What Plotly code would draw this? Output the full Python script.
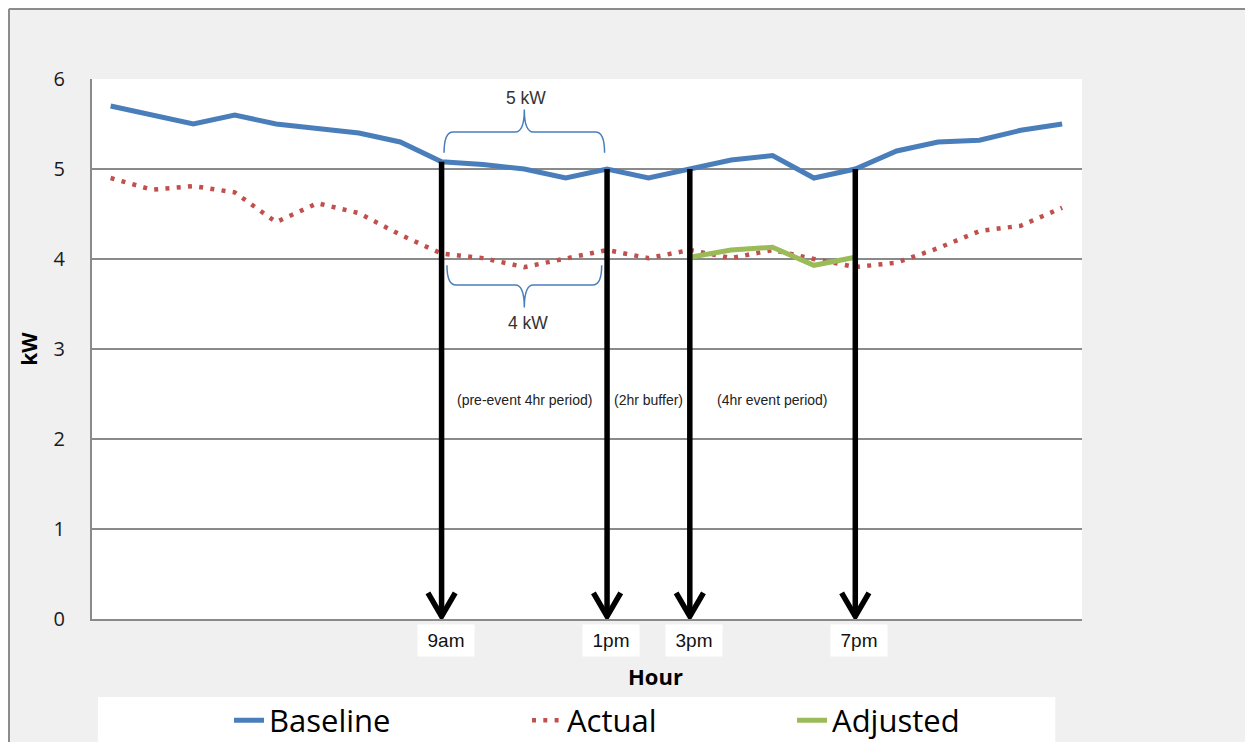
import plotly.graph_objects as go

# ---------------- data ----------------
hours = list(range(1, 25))
baseline = [5.7, 5.6, 5.5, 5.6, 5.5, 5.45, 5.4, 5.3, 5.08, 5.05, 5.0, 4.9,
            5.0, 4.9, 5.0, 5.1, 5.15, 4.9, 5.0, 5.2, 5.3, 5.32, 5.43, 5.5]
actual = [4.9, 4.77, 4.81, 4.74, 4.41, 4.62, 4.51, 4.27, 4.06, 4.01, 3.91, 4.0,
          4.1, 4.01, 4.1, 4.01, 4.1, 4.0, 3.91, 3.96, 4.12, 4.31, 4.37, 4.57]
adjusted_hours = [15, 16, 17, 18, 19]
adjusted = [4.02, 4.1, 4.13, 3.93, 4.02]

marker_hours = [9, 13, 15, 19]
marker_labels = ["9am", "1pm", "3pm", "7pm"]

period_texts = ["(pre-event 4hr period)", "(2hr buffer)", "(4hr event period)"]
pre_event_baseline_label = "5 kW"
pre_event_actual_label = "4 kW"

BLUE = "#4a7ebb"
RED = "#c0504d"
GREEN = "#9bbb59"
GRID = "#8a8a8a"
FRAME = "#8c8c8c"

fig = go.Figure()

fig.add_trace(go.Scatter(x=hours, y=baseline, name="Baseline", mode="lines",
                         legend="legend", line=dict(color=BLUE, width=5)))
fig.add_trace(go.Scatter(x=hours, y=actual, name="Actual", mode="lines",
                         legend="legend2",
                         line=dict(color=RED, width=4.5, dash="4px,7.3px")))
fig.add_trace(go.Scatter(x=adjusted_hours, y=adjusted, name="Adjusted", mode="lines",
                         legend="legend3", line=dict(color=GREEN, width=5)))

# vertical arrows from the baseline down to zero
ax_x, ax_y = [], []
arm_dx, arm_dy = 0.33, 0.29
for h in marker_hours:
    b = baseline[hours.index(h)]
    ax_x += [h, h, None, h - arm_dx, h, h + arm_dx, None]
    ax_y += [b, 0.03, None, arm_dy, 0.03, arm_dy, None]
fig.add_trace(go.Scatter(x=ax_x, y=ax_y, mode="lines", showlegend=False,
                         hoverinfo="skip", cliponaxis=False,
                         line=dict(color="black", width=5.5)))


def brace(x0, x1, y_tip, y_flat, y_peak, d=0.22):
    xc = (x0 + x1) / 2
    return (f"M {x0},{y_tip} Q {x0},{y_flat} {x0 + d},{y_flat} "
            f"L {xc - d},{y_flat} Q {xc},{y_flat} {xc},{y_peak} "
            f"Q {xc},{y_flat} {xc + d},{y_flat} L {x1 - d},{y_flat} "
            f"Q {x1},{y_flat} {x1},{y_tip}")


# paper coordinates of the outer chart frame
fx = -83 / 990
fy = 1 + 70 / 540

h0, h1 = marker_hours[0], marker_hours[1]
shapes = [
    # frame lines
    dict(type="line", xref="paper", yref="paper", x0=fx, x1=1.3, y0=fy, y1=fy,
         line=dict(color=FRAME, width=2), layer="above"),
    dict(type="line", xref="paper", yref="paper", x0=fx, x1=fx, y0=-0.4, y1=fy,
         line=dict(color=FRAME, width=2), layer="above"),
    # legend box
    dict(type="rect", xref="paper", yref="paper", x0=0.006, x1=0.973, y0=-0.4, y1=-0.1444,
         fillcolor="white", line=dict(width=0), layer="below"),
    # braces
    dict(type="path", xref="x", yref="y", path=brace(h0 + 0.06, h1 - 0.06, 5.18, 5.41, 5.66),
         line=dict(color=BLUE, width=1.5)),
    dict(type="path", xref="x", yref="y", path=brace(h0 + 0.13, h1 - 0.13, 3.93, 3.71, 3.46),
         line=dict(color=BLUE, width=1.5)),
]

annotations = []
for h, lab in zip(marker_hours, marker_labels):
    annotations.append(dict(x=h + 0.1, y=0, xref="x", yref="y", text=lab, showarrow=False,
                            yanchor="top", yshift=-5, bgcolor="white", width=46,
                            borderpad=5,
                            font=dict(family="Liberation Sans, Arial", size=19, color="#111")))
period_centers = [(marker_hours[i] + marker_hours[i + 1]) / 2 for i in range(3)]
for xc, t in zip(period_centers, period_texts):
    annotations.append(dict(x=xc, y=2.43, xref="x", yref="y", text=t, showarrow=False,
                            font=dict(family="Liberation Sans, Arial", size=14, color="#222")))
annotations.append(dict(x=(h0 + h1) / 2 + 0.05, y=5.79, xref="x", yref="y",
                        text=pre_event_baseline_label, showarrow=False,
                        font=dict(family="Liberation Sans, Arial", size=17.5, color="#333")))
annotations.append(dict(x=(h0 + h1) / 2 + 0.08, y=3.29, xref="x", yref="y",
                        text=pre_event_actual_label, showarrow=False,
                        font=dict(family="Liberation Sans, Arial", size=17.5, color="#333")))
annotations.append(dict(x=0.569, y=-0.1056, xref="paper", yref="paper", text="<b>Hour</b>",
                        showarrow=False, xanchor="center", yanchor="middle",
                        font=dict(family="Open Sans", size=22, color="black")))

legend_style = dict(orientation="h", xanchor="left", y=-0.138, yanchor="top",
                    bgcolor="rgba(0,0,0,0)",
                    font=dict(family="Open Sans", size=31, color="black"), itemwidth=30)

fig.update_layout(
    width=1253, height=742,
    # the page adds an 8px body margin; margins are shifted to compensate
    margin=dict(l=84, r=179, t=71, b=131, autoexpand=False),
    paper_bgcolor="#f0f0f0", plot_bgcolor="white",
    shapes=shapes, annotations=annotations,
    showlegend=True,
    legend=dict(x=0.1384, **legend_style),
    legend2=dict(x=0.4394, **legend_style),
    legend3=dict(x=0.7071, **legend_style),
    xaxis=dict(range=[0.55, 24.48], showgrid=False, zeroline=False, showticklabels=False,
               showline=True, linecolor=GRID, linewidth=2, ticks="", automargin=False),
    yaxis=dict(range=[0, 6], dtick=1, showgrid=True, gridcolor=GRID, gridwidth=1.5,
               zeroline=False, showline=True, linecolor=GRID, linewidth=2,
               ticklabelstandoff=21, automargin=False,
               tickfont=dict(family="Open Sans", size=20, color="#1a1a1a"),
               title=dict(text="<b>kW</b>", standoff=10,
                          font=dict(family="Open Sans", size=21, color="black"))),
)

fig.write_html("out.html")
